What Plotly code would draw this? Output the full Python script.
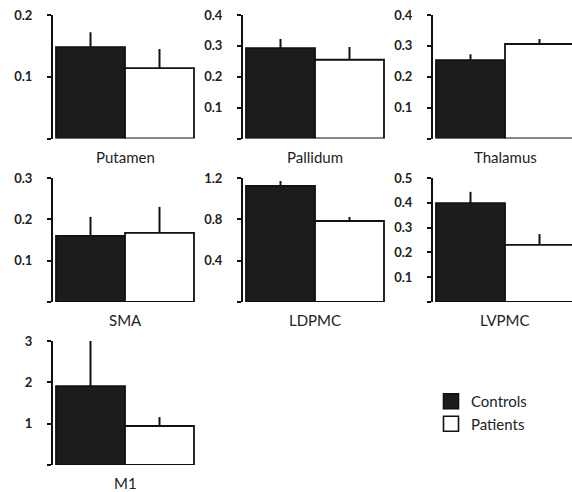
import plotly.graph_objects as go

regions = ["Putamen", "Pallidum", "Thalamus", "SMA", "LDPMC", "LVPMC", "M1"]
controls = [0.148, 0.293, 0.254, 0.160, 1.123, 0.399, 1.91]
controls_err = [0.024, 0.029, 0.019, 0.046, 0.048, 0.045, 1.11]
patients = [0.114, 0.255, 0.306, 0.167, 0.784, 0.230, 0.944]
patients_err = [0.031, 0.041, 0.016, 0.063, 0.039, 0.044, 0.216]
y_max = [0.2, 0.4, 0.4, 0.3, 1.2, 0.5, 3]
y_ticks = [[0, 0.1, 0.2], [0, 0.1, 0.2, 0.3, 0.4], [0, 0.1, 0.2, 0.3, 0.4],
           [0, 0.1, 0.2, 0.3], [0, 0.4, 0.8, 1.2], [0, 0.1, 0.2, 0.3, 0.4, 0.5], [0, 1, 2, 3]]
y_ticktext = [["", "0.1", "0.2"], ["", "0.1", "0.2", "0.3", "0.4"], ["", "0.1", "0.2", "0.3", "0.4"],
              ["", "0.1", "0.2", "0.3"], ["", "0.4", "0.8", "1.2"], ["", "0.1", "0.2", "0.3", "0.4", "0.5"],
              ["", "1", "2", "3"]]
groups = ["Controls", "Patients"]

W, H = 572, 492
col_left = [53, 243, 433]
col_right = [195, 385, 572]
row_top = [15, 178, 341]
row_bottom = [138.5, 302, 465]
px_per_unit = 69.0

FONT = "Lato, 'Open Sans', sans-serif"
fig = go.Figure()

for i, name in enumerate(regions):
    r, c = divmod(i, 3)
    ax = "" if i == 0 else str(i + 1)
    xa, ya = "x" + ax, "y" + ax
    fig.add_trace(go.Bar(
        x=[0], y=[controls[i]], width=[1], xaxis=xa, yaxis=ya,
        marker=dict(color="#1c1c1c", line=dict(color="#111", width=1.8)),
        error_y=dict(type="data", symmetric=False, array=[controls_err[i]], arrayminus=[0],
                     color="#111", thickness=2, width=0),
        showlegend=False, cliponaxis=False))
    fig.add_trace(go.Bar(
        x=[1], y=[patients[i]], width=[1], xaxis=xa, yaxis=ya,
        marker=dict(color="white", line=dict(color="#111", width=1.8)),
        error_y=dict(type="data", symmetric=False, array=[patients_err[i]], arrayminus=[0],
                     color="#111", thickness=2, width=0),
        showlegend=False, cliponaxis=False))
    left = -0.5 - 3 / px_per_unit
    right = left + (col_right[c] - col_left[c]) / px_per_unit
    fig.update_layout(**{
        "xaxis" + ax: dict(domain=[col_left[c] / W, col_right[c] / W], range=[left, right],
                           showline=False, showticklabels=False, showgrid=False, zeroline=False,
                           anchor=ya),
        "yaxis" + ax: dict(domain=[1 - row_bottom[r] / H, 1 - row_top[r] / H], range=[0, y_max[i]],
                           tickvals=y_ticks[i], ticktext=y_ticktext[i],
                           showline=True, linewidth=2, linecolor="#111",
                           ticks="outside", ticklen=4, tickwidth=2, tickcolor="#111",
                           showgrid=False, zeroline=False, ticklabelstandoff=12,
                           automargin=False,
                           tickfont=dict(family=FONT, size=13, color="#222", weight="bold"),
                           anchor=xa),
    })
    fig.add_annotation(x=0.5, xref=xa, y=0, yref=ya + " domain", yanchor="top", yshift=-8,
                       text=name, showarrow=False, borderpad=0,
                       font=dict(family=FONT, size=15, color="#222"))

for g, col in zip(groups, ["#1c1c1c", "white"]):
    fig.add_trace(go.Scatter(x=[None], y=[None], mode="markers", name=g,
                             marker=dict(symbol="square", size=15, color=col,
                                         line=dict(color="#111", width=1.6))))

fig.update_layout(
    width=W, height=H, margin=dict(l=0, r=0, t=0, b=0, autoexpand=False),
    paper_bgcolor="white", plot_bgcolor="white", barmode="overlay",
    showlegend=True,
    legend=dict(x=431 / W, y=1 - 385 / H, xanchor="left", yanchor="top",
                font=dict(family=FONT, size=15, color="#222"), bgcolor="rgba(0,0,0,0)",
                tracegroupgap=0),
)

fig.write_html("out.html", config={"displayModeBar": False},
               post_script="document.body.style.margin='0';document.body.style.overflow='hidden';")
